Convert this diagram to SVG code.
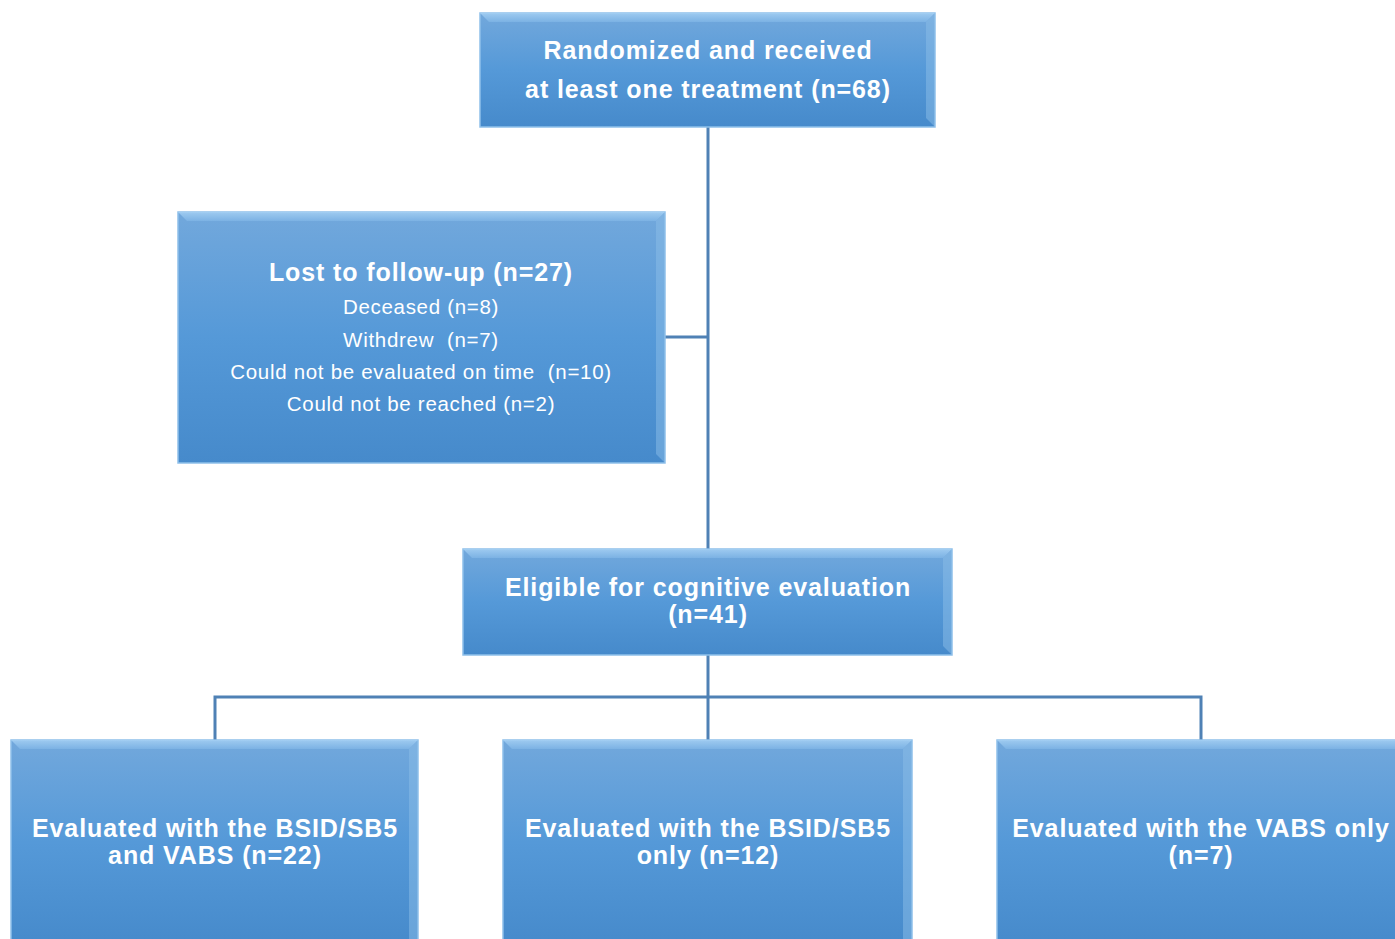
<svg xmlns="http://www.w3.org/2000/svg" width="1395" height="939" viewBox="0 0 1395 939">
<defs>
<linearGradient id="g" x1="0" y1="0" x2="0" y2="1">
<stop offset="0" stop-color="#72a8dc"/>
<stop offset="0.5" stop-color="#5599d8"/>
<stop offset="1" stop-color="#468acb"/>
</linearGradient>
<linearGradient id="hl" x1="0" y1="0" x2="0" y2="1">
<stop offset="0" stop-color="#a9d3f5"/>
<stop offset="1" stop-color="#7fb5e6"/>
</linearGradient>
</defs>
<style>
.box{fill:url(#g);stroke:#8fc0ea;stroke-width:1.5}
.bev{fill:url(#hl);opacity:0.8}
.side{fill:#8cbde8;opacity:0.5}
.t{font-family:"Liberation Sans",Arial,sans-serif;fill:#fff;text-anchor:middle;white-space:pre}
.b{font-weight:bold;font-size:25px;letter-spacing:0.9px}
.r{font-size:20.5px;letter-spacing:0.7px}
.conn{fill:none;stroke:#4f81b5;stroke-width:3}
</style>
<g id="connectors">
<path class="conn" d="M708,127 V549"/>
<path class="conn" d="M665,337 H708"/>
<path class="conn" d="M708,655 V740"/>
<path class="conn" d="M215,740 V697 H1201 V740"/>
</g>
<g id="n1">
<rect class="box" x="480" y="13" width="455" height="114"/>
<polygon class="bev" points="480,13 935,13 926,22 489,22"/>
<polygon class="side" points="926,22 935,13 935,127 926,118"/>
<text class="t b" x="708" y="59">Randomized and received</text>
<text class="t b" x="708" y="98">at least one treatment (n=68)</text>
</g>
<g id="n2">
<rect class="box" x="178" y="212" width="487" height="251"/>
<polygon class="bev" points="178,212 665,212 656,221 187,221"/>
<polygon class="side" points="656,221 665,212 665,463 656,454"/>
<text class="t b" x="421" y="281">Lost to follow-up (n=27)</text>
<text class="t r" x="421" y="314">Deceased (n=8)</text>
<text class="t r" x="421" y="347">Withdrew  (n=7)</text>
<text class="t r" x="421" y="379">Could not be evaluated on time  (n=10)</text>
<text class="t r" x="421" y="411">Could not be reached (n=2)</text>
</g>
<g id="n3">
<rect class="box" x="463" y="549" width="489" height="106"/>
<polygon class="bev" points="463,549 952,549 943,558 472,558"/>
<polygon class="side" points="943,558 952,549 952,655 943,646"/>
<text class="t b" x="708" y="596">Eligible for cognitive evaluation</text>
<text class="t b" x="708" y="623">(n=41)</text>
</g>
<g id="n4">
<rect class="box" x="11" y="740" width="407" height="205"/>
<polygon class="bev" points="11,740 418,740 409,749 20,749"/>
<polygon class="side" points="409,749 418,740 418,945 409,945"/>
<text class="t b" x="215" y="837">Evaluated with the BSID/SB5</text>
<text class="t b" x="215" y="864">and VABS (n=22)</text>
</g>
<g id="n5">
<rect class="box" x="503" y="740" width="409" height="205"/>
<polygon class="bev" points="503,740 912,740 903,749 512,749"/>
<polygon class="side" points="903,749 912,740 912,945 903,945"/>
<text class="t b" x="708" y="837">Evaluated with the BSID/SB5</text>
<text class="t b" x="708" y="864">only (n=12)</text>
</g>
<g id="n6">
<rect class="box" x="997" y="740" width="410" height="205"/>
<polygon class="bev" points="997,740 1407,740 1398,749 1006,749"/>
<text class="t b" x="1201" y="837">Evaluated with the VABS only</text>
<text class="t b" x="1201" y="864">(n=7)</text>
</g>
</svg>
